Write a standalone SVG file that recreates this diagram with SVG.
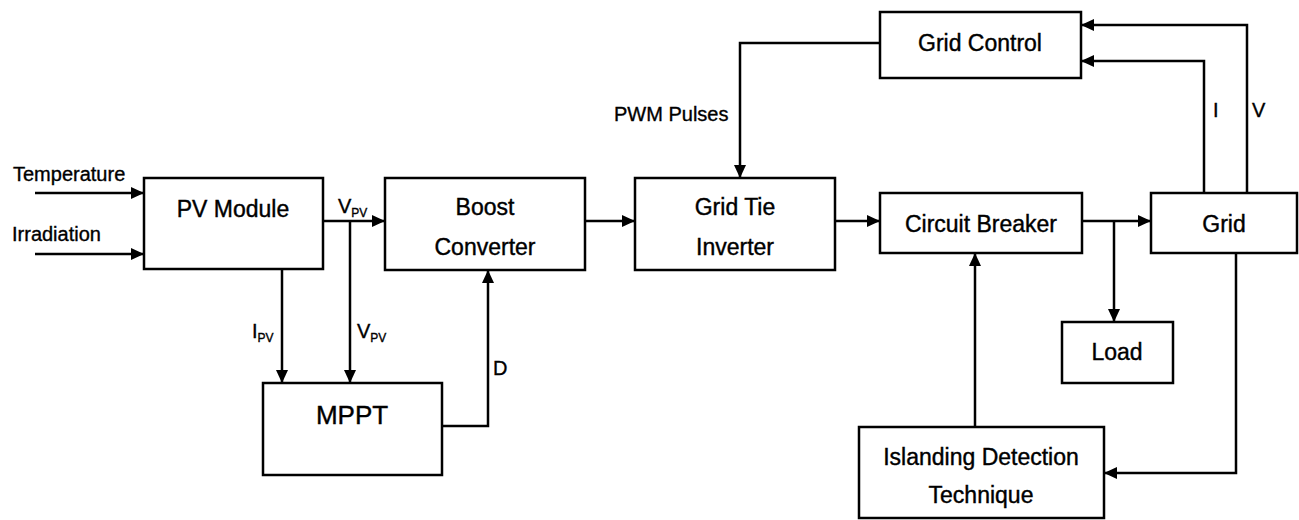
<svg xmlns="http://www.w3.org/2000/svg" width="1299" height="520" viewBox="0 0 1299 520">
<style>
.box{fill:#fff;stroke:#000;stroke-width:2.5}
.t{font-family:"Liberation Sans",Arial,sans-serif;font-size:23px;fill:#000;stroke:#000;stroke-width:0.4;text-anchor:middle}
.l{font-family:"Liberation Sans",Arial,sans-serif;font-size:20px;fill:#000;stroke:#000;stroke-width:0.35}
.s{font-size:12px}
.c{fill:none;stroke:#000;stroke-width:2.5}
.a{marker-end:url(#ah)}
</style>
<defs>
<marker id="ah" markerUnits="userSpaceOnUse" markerWidth="14" markerHeight="12" refX="13" refY="6" orient="auto">
<path d="M0,0 L13,6 L0,12 z" fill="#000"/>
</marker>
</defs>
<rect width="1299" height="520" fill="#fff"/>
<g id="connectors">
<path class="c a" d="M35,193 H144"/>
<path class="c a" d="M35,254 H144"/>
<path class="c a" d="M323,221 H385"/>
<path class="c a" d="M282,269 V383"/>
<path class="c a" d="M350,221 V383"/>
<path class="c a" d="M442,426 H488 V270"/>
<path class="c a" d="M585,221 H635"/>
<path class="c a" d="M880,43 H740 V178"/>
<path class="c a" d="M835,221 H880"/>
<path class="c a" d="M1082,221 H1151"/>
<path class="c a" d="M1114,221 V322"/>
<path class="c a" d="M1204,193 V61 H1081"/>
<path class="c a" d="M1247,193 V25 H1081"/>
<path class="c a" d="M975,427 V253"/>
<path class="c a" d="M1236,253 V473 H1104"/>
<text class="l" x="13" y="181">Temperature</text>
<text class="l" x="12" y="241">Irradiation</text>
<text class="l" x="338" y="213">V<tspan class="s" dy="4">PV</tspan></text>
<text class="l" x="252" y="338">I<tspan class="s" dy="4">PV</tspan></text>
<text class="l" x="357" y="338">V<tspan class="s" dy="4">PV</tspan></text>
<text class="l" x="493" y="375">D</text>
<text class="l" x="614" y="121">PWM Pulses</text>
<text class="l" x="1213" y="117">I</text>
<text class="l" x="1252" y="117">V</text>
</g>
<g id="pv-module"><rect class="box" x="144" y="178" width="179" height="91"/><text class="t" x="233" y="217">PV Module</text></g>
<g id="mppt"><rect class="box" x="263" y="383" width="179" height="92"/><text class="t" x="352" y="424" style="font-size:26px">MPPT</text></g>
<g id="boost-converter"><rect class="box" x="385" y="178" width="200" height="92"/><text class="t" x="485" y="215">Boost</text><text class="t" x="485" y="255">Converter</text></g>
<g id="grid-tie-inverter"><rect class="box" x="635" y="178" width="200" height="92"/><text class="t" x="735" y="215">Grid Tie</text><text class="t" x="735" y="255">Inverter</text></g>
<g id="grid-control"><rect class="box" x="880" y="12" width="201" height="66"/><text class="t" x="980" y="51">Grid Control</text></g>
<g id="circuit-breaker"><rect class="box" x="880" y="193" width="202" height="60"/><text class="t" x="981" y="232">Circuit Breaker</text></g>
<g id="grid"><rect class="box" x="1151" y="193" width="146" height="60"/><text class="t" x="1224" y="232">Grid</text></g>
<g id="load"><rect class="box" x="1062" y="322" width="111" height="61"/><text class="t" x="1117" y="360">Load</text></g>
<g id="islanding-detection"><rect class="box" x="859" y="427" width="245" height="91"/><text class="t" x="981" y="465">Islanding Detection</text><text class="t" x="981" y="503">Technique</text></g>
</svg>
